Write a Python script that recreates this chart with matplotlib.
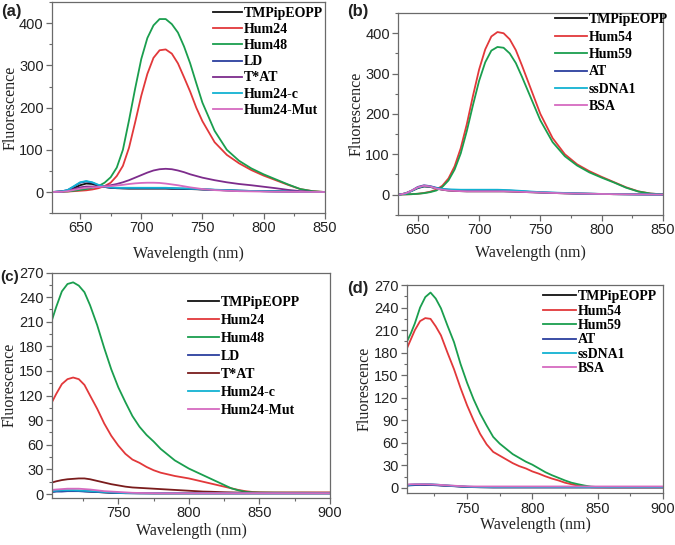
import numpy as np
import matplotlib
matplotlib.use("Agg")
import matplotlib.pyplot as plt
from matplotlib.ticker import MultipleLocator

# ---------------- data ----------------
# panel (a)
wl_a = [627, 635, 640, 645, 650, 655, 660, 665, 670, 675, 680, 685, 690, 695, 700,
        705, 710, 715, 720, 725, 730, 735, 740, 745, 750, 760, 770, 780, 790, 800,
        810, 820, 830, 840, 850]
a_tmpip = [0, 1, 3, 9, 16, 20, 19, 15, 12, 10, 9, 8.5, 8, 8, 8,
           8, 8, 8, 8, 7.5, 7.5, 7, 7, 6.5, 6, 5, 4, 3, 2.5, 2,
           1.5, 1, 0.5, 0.2, 0]
a_hum24 = [0, 0.5, 1, 2, 3, 4, 6, 9, 14, 22, 38, 62, 105, 165, 228,
           280, 318, 336, 338, 328, 305, 272, 238, 200, 168, 118, 88, 68, 52, 39,
           28, 17, 7, 2, 0]
a_hum48 = [0, 0.5, 1.5, 3, 5, 7, 10, 14, 22, 35, 58, 100, 170, 245, 315,
           365, 395, 410, 410, 398, 378, 345, 305, 258, 212, 145, 100, 74, 56, 42,
           30, 18, 7, 2, 0]
a_ld = [0, 1.5, 5, 13, 22, 25, 22, 16, 12, 10, 9.5, 9, 9, 9, 9,
        9, 9, 9, 9, 8.5, 8, 8, 7.5, 7, 6, 5, 4, 3, 2.5, 2,
        1.5, 1, 0.5, 0.2, 0]
a_tat = [0, 1, 3, 7, 11, 13, 13, 13, 14, 16, 19, 23, 28, 34, 40,
         46, 51, 54, 55, 54, 51, 47, 42, 38, 34, 28, 23, 19, 16, 12.5,
         9, 5, 2, 0.5, 0]
a_hum24c = [0, 1.5, 5, 14, 23, 26, 23, 17, 13, 11, 10, 10, 10, 10, 10,
            10, 10, 10, 10, 9.5, 9, 8.5, 8, 7.5, 7, 5.5, 4.5, 3.5, 2.5, 2,
            1.5, 1, 0.5, 0.2, 0]
a_mut = [0, 0.5, 2, 5, 8, 10, 11, 12, 13, 14, 15.5, 17, 19, 20.5, 21.5,
         22, 22, 21.5, 20, 18, 16, 13.5, 11, 9, 7, 4.5, 3, 2, 1.5, 1,
         0.5, 0.3, 0.2, 0.1, 0]

# panel (b)
wl_b = [635, 640, 645, 650, 655, 660, 665, 670, 675, 680, 685, 690, 695, 700,
        705, 710, 715, 720, 725, 730, 735, 740, 745, 750, 760, 770, 780, 790,
        800, 810, 820, 830, 840, 850]
b_tmpip = [0, 3, 9, 16, 20, 19, 15, 12, 10, 9, 8.5, 8, 8, 8,
           8, 8, 8, 8, 7.5, 7, 6.5, 6, 5.5, 5, 4, 3, 2.5, 2,
           1.5, 1, 0.7, 0.4, 0.2, 0]
b_hum54 = [0, 0.5, 1, 2, 4, 7, 12, 22, 40, 70, 115, 175, 245, 310,
           360, 392, 403, 400, 385, 358, 320, 280, 240, 200, 140, 100, 75, 58,
           44, 31, 18, 8, 2.5, 0.5]
b_hum59 = [0, 0.5, 1, 2, 3.5, 6, 10, 19, 35, 62, 102, 158, 222, 282,
           328, 357, 366, 364, 350, 326, 292, 256, 220, 184, 130, 95, 72, 55,
           42, 30, 17, 7.5, 2.5, 0.5]
b_at = [0, 3, 10, 19, 23, 21, 17, 14, 12, 11, 10.5, 10, 10, 10,
        10, 10, 10, 10, 9.5, 9, 8, 7, 6, 5.5, 4.5, 3.5, 2.5, 2,
        1.5, 1, 0.7, 0.4, 0.2, 0]
b_ssdna = [0, 2.5, 9, 17, 21, 20, 16, 14, 13, 12.5, 12, 12, 12, 12,
           12, 12, 12, 11.5, 11, 10, 9, 8, 7, 6, 5, 4, 3, 2.2,
           1.6, 1.1, 0.8, 0.5, 0.2, 0]
b_bsa = [0, 3, 10, 18, 22, 20, 15, 12, 10, 9, 8.5, 8, 8, 8,
         8, 8, 8, 8, 7.5, 7, 6.5, 6, 5.5, 5, 4, 3, 2.5, 2,
         1.5, 1, 0.7, 0.4, 0.2, 0]

# panel (c)
wl_c = [703, 706, 710, 714, 718, 722, 726, 730, 735, 740, 745, 750, 755, 760,
        765, 770, 775, 780, 785, 790, 795, 800, 805, 810, 815, 820, 825, 830,
        835, 840, 845, 850, 860, 870, 880, 890, 900]
c_tmpip = [3, 3.5, 4, 4, 4, 4, 3.5, 3, 2.5, 2, 1.5, 1.2, 1, 1,
           0.9, 0.9, 0.8, 0.8, 0.8, 0.8, 0.8, 0.8, 0.8, 0.8, 0.8, 0.8, 0.8, 0.8,
           0.8, 0.8, 0.8, 0.8, 0.8, 0.8, 0.8, 0.8, 0.8]
c_hum24 = [112, 122, 134, 140, 142, 140, 133, 120, 104, 86, 71, 59, 49, 42,
           38, 33, 29, 26, 24, 22, 20.5, 19, 17, 15, 13, 11, 9, 7,
           5, 3.5, 2.5, 2.2, 2, 2, 2, 2, 2]
c_hum48 = [212, 228, 247, 256, 258, 254, 246, 230, 206, 178, 152, 130, 112, 95,
           82, 72, 64, 55, 48, 41, 36, 31, 27, 23, 19, 15, 11, 7,
           4.5, 2.8, 2, 1.8, 1.7, 1.6, 1.6, 1.5, 1.5]
c_ld = [2.5, 3, 3, 3.5, 3.5, 3.5, 3, 2.8, 2.4, 2, 1.6, 1.3, 1.1, 1,
        0.9, 0.8, 0.8, 0.8, 0.8, 0.8, 0.8, 0.8, 0.8, 0.8, 0.8, 0.8, 0.8, 0.8,
        0.8, 0.8, 0.8, 0.8, 0.8, 0.8, 0.8, 0.8, 0.8]
c_tat = [14, 15.5, 17, 18, 18.5, 19, 19, 18, 16, 14, 12, 10.5, 9, 8,
         7.5, 7, 6.5, 6, 5.5, 5, 4.5, 4, 3.5, 3, 2.8, 2.5, 2.2, 2,
         1.8, 1.6, 1.5, 1.4, 1.3, 1.2, 1.2, 1.2, 1.2]
c_hum24c = [3.5, 4, 4.5, 4.5, 4.5, 4.2, 4, 3.5, 3, 2.5, 2, 1.5, 1.2, 1,
            1, 1, 1, 1, 1, 1, 1, 1, 1, 1, 1, 1, 1, 1,
            1, 1, 1, 1, 1, 1, 1, 1, 1]
c_mut = [5, 5.5, 6, 6.5, 6.5, 6.5, 6, 5.5, 4.5, 3.5, 3, 2.5, 2, 1.5,
         1.3, 1.2, 1.1, 1, 1, 1, 1, 1, 1, 1, 1, 1, 1, 1,
         1, 1, 1, 1, 1, 1, 1, 1, 1]

# panel (d)
wl_d = [704, 707, 710, 714, 718, 722, 726, 730, 735, 740, 745, 750, 755, 760,
        765, 770, 775, 780, 785, 790, 795, 800, 805, 810, 815, 820, 825, 830,
        835, 840, 845, 850, 860, 870, 880, 890, 900]
d_tmpip = [3.5, 4, 4.2, 4.5, 4.5, 4.5, 4, 3.5, 3, 2.5, 2, 1.5, 1.2, 1,
           0.9, 0.8, 0.8, 0.8, 0.8, 0.8, 0.8, 0.8, 0.8, 0.8, 0.8, 0.8, 0.8, 0.8,
           0.8, 0.8, 0.8, 0.8, 0.8, 0.8, 0.8, 0.8, 0.8]
d_hum54 = [186, 198, 210, 222, 226, 225, 215, 203, 180, 158, 133, 110, 90, 72,
           58, 48, 43, 38, 33, 29, 26, 22, 19, 15.5, 12.5, 10, 7, 5,
           3.2, 2, 1, 0.8, 0.8, 0.8, 0.8, 0.8, 0.8]
d_hum59 = [195, 206, 219, 240, 254, 260, 252, 239, 216, 194, 165, 140, 118, 99,
           83, 68, 59, 52, 45, 40, 35, 31, 26, 21, 17, 13.5, 10, 7,
           5, 3.2, 1.8, 1.2, 1, 1, 1, 1, 1]
d_at = [3, 3.5, 3.8, 4, 4, 4, 3.6, 3.2, 2.8, 2.3, 1.8, 1.4, 1.1, 1,
        0.9, 0.8, 0.8, 0.8, 0.8, 0.8, 0.8, 0.8, 0.8, 0.8, 0.8, 0.8, 0.8, 0.8,
        0.8, 0.8, 0.8, 0.8, 0.8, 0.8, 0.8, 0.8, 0.8]
d_ssdna = [4, 4.5, 5, 5, 5.2, 5, 4.6, 4, 3.4, 2.8, 2.2, 1.8, 1.5, 1.3,
           1.2, 1.2, 1.2, 1.2, 1.2, 1.2, 1.2, 1.2, 1.2, 1.2, 1.2, 1.2, 1.2, 1.2,
           1.2, 1.2, 1.2, 1.2, 1.2, 1.2, 1.2, 1.2, 1.2]
d_bsa = [4.5, 5, 5, 5, 5, 4.8, 4.5, 4, 3.5, 3, 2.5, 2.2, 2, 2,
         2, 2, 2, 2, 2, 2, 2, 2, 2, 2, 2, 2, 2, 2,
         2, 2, 2, 2, 2, 2, 2, 2, 2]

BLACK = "#111111"
RED = "#e2383a"
GREEN = "#1a9e4e"
BLUE = "#2b3f9e"
PURPLE = "#7d2c8c"
MAROON = "#7a1c1c"
CYAN = "#12b2d2"
PINK = "#d66ac0"

SANS = "Liberation Sans"
SERIF = "Liberation Serif"

fig = plt.figure(figsize=(6.75, 5.45), dpi=100)


def style_axes(ax, xlim, ylim, xmaj, ymaj, xlab_y, ylab_x):
    ax.set_xlim(*xlim)
    ax.set_ylim(*ylim)
    ax.xaxis.set_major_locator(MultipleLocator(xmaj))
    ax.xaxis.set_minor_locator(MultipleLocator(xmaj / 2))
    ax.yaxis.set_major_locator(MultipleLocator(ymaj))
    ax.yaxis.set_minor_locator(MultipleLocator(ymaj / 2))
    for s in ax.spines.values():
        s.set_color("#6a6a6a")
        s.set_linewidth(0.9)
    ax.tick_params(which="both", direction="out", top=False, right=False,
                   color="#6a6a6a", labelsize=10.5, labelcolor="#222222")
    ax.tick_params(which="major", length=4, width=0.9, pad=2)
    ax.tick_params(which="minor", length=2, width=0.8)
    for lab in ax.get_xticklabels() + ax.get_yticklabels():
        lab.set_family(SANS)
    ax.set_xlabel("Wavelength (nm)", family=SERIF, fontsize=11.5, color="#222222")
    ax.set_ylabel("Fluorescence", family=SERIF, fontsize=11.5, color="#222222")
    ax.xaxis.set_label_coords(0.5, xlab_y)
    ax.yaxis.set_label_coords(ylab_x, 0.5)


def add_legend(ax, anchor, spacing, size=10, hlen=2.1):
    ax.legend(loc="upper left", bbox_to_anchor=anchor, frameon=False,
              borderpad=0, borderaxespad=0, handlelength=hlen,
              handletextpad=0.15, labelspacing=spacing,
              prop={"family": SERIF, "weight": "bold", "size": size})


lw = 1.3

# (a)
ax = fig.add_axes([0.077, 0.609, 0.404, 0.387])
ax.plot(wl_a, a_tmpip, color=BLACK, lw=lw, label="TMPipEOPP")
ax.plot(wl_a, a_hum24, color=RED, lw=lw, label="Hum24")
ax.plot(wl_a, a_hum48, color=GREEN, lw=lw, label="Hum48")
ax.plot(wl_a, a_ld, color=BLUE, lw=lw, label="LD")
ax.plot(wl_a, a_tat, color=PURPLE, lw=lw, label="T*AT")
ax.plot(wl_a, a_hum24c, color=CYAN, lw=lw, label="Hum24-c")
ax.plot(wl_a, a_mut, color=PINK, lw=lw, label="Hum24-Mut")
style_axes(ax, (627, 850), (-50, 450), 50, 100, -0.155, -0.121)
add_legend(ax, (0.59, 0.976), 0.22)

# (b)
ax = fig.add_axes([0.590, 0.606, 0.392, 0.370])
ax.plot(wl_b, b_tmpip, color=BLACK, lw=lw, label="TMPipEOPP")
ax.plot(wl_b, b_hum54, color=RED, lw=lw, label="Hum54")
ax.plot(wl_b, b_hum59, color=GREEN, lw=lw, label="Hum59")
ax.plot(wl_b, b_at, color=BLUE, lw=lw, label="AT")
ax.plot(wl_b, b_ssdna, color=CYAN, lw=lw, label="ssDNA1")
ax.plot(wl_b, b_bsa, color=PINK, lw=lw, label="BSA")
style_axes(ax, (634, 850), (-50, 450), 50, 100, -0.152, -0.128)
add_legend(ax, (0.592, 1.0), 0.32, hlen=2.3)

# (c)
ax = fig.add_axes([0.077, 0.086, 0.412, 0.414])
ax.plot(wl_c, c_tmpip, color=BLACK, lw=lw, label="TMPipEOPP")
ax.plot(wl_c, c_hum24, color=RED, lw=lw, label="Hum24")
ax.plot(wl_c, c_hum48, color=GREEN, lw=lw, label="Hum48")
ax.plot(wl_c, c_ld, color=BLUE, lw=lw, label="LD")
ax.plot(wl_c, c_tat, color=MAROON, lw=lw, label="T*AT")
ax.plot(wl_c, c_hum24c, color=CYAN, lw=lw, label="Hum24-c")
ax.plot(wl_c, c_mut, color=PINK, lw=lw, label="Hum24-Mut")
style_axes(ax, (703, 900), (-5, 270), 50, 30, -0.112, -0.122)
add_legend(ax, (0.489, 0.895), 0.36, hlen=2.2)

# (d)
ax = fig.add_axes([0.603, 0.095, 0.379, 0.382])
ax.plot(wl_d, d_tmpip, color=BLACK, lw=lw, label="TMPipEOPP")
ax.plot(wl_d, d_hum54, color=RED, lw=lw, label="Hum54")
ax.plot(wl_d, d_hum59, color=GREEN, lw=lw, label="Hum59")
ax.plot(wl_d, d_at, color=BLUE, lw=lw, label="AT")
ax.plot(wl_d, d_ssdna, color=CYAN, lw=lw, label="ssDNA1")
ax.plot(wl_d, d_bsa, color=PINK, lw=lw, label="BSA")
style_axes(ax, (704, 900), (-7, 270), 50, 30, -0.112, -0.133)
add_legend(ax, (0.53, 0.975), 0.1, hlen=2.4)

# panel letters
for x, y, t, fs in [(0.002, 0.978, "(a)", 12), (0.514, 0.978, "(b)", 12),
                    (0.0, 0.492, "(c)", 11), (0.514, 0.471, "(d)", 12)]:
    fig.text(x, y, t, family=SANS, fontsize=fs, fontweight="bold",
             color="#222222", va="center")

fig.savefig("out.png", dpi=100)
